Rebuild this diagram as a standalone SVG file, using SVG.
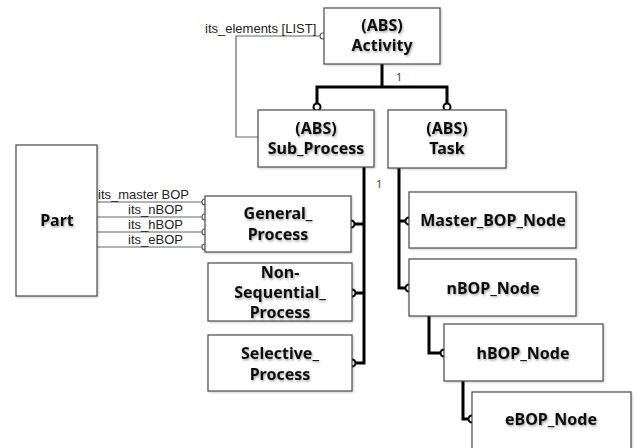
<svg xmlns="http://www.w3.org/2000/svg" width="637" height="448" viewBox="0 0 637 448">
  <defs>
    <filter id="txtShadow" x="-10%" y="-20%" width="130%" height="160%">
      <feDropShadow dx="1" dy="1.5" stdDeviation="1" flood-color="#000" flood-opacity="0.35"/>
    </filter>
    <filter id="boxShadow" x="-5%" y="-5%" width="115%" height="115%">
      <feDropShadow dx="1" dy="1" stdDeviation="1" flood-color="#000" flood-opacity="0.2"/>
    </filter>
  </defs>
  <style>
    .box { fill: #fff; stroke: #4a4a4a; stroke-width: 1.2; filter: url(#boxShadow); }
    .name { font-family: "Noto Sans", "Open Sans", sans-serif; font-weight: bold; font-size: 16px; fill: #111; text-anchor: middle; filter: url(#txtShadow); }
    .lbl { font-family: "Liberation Sans", Arial, sans-serif; font-size: 13px; fill: #222; }
    .num { font-family: "Noto Sans", sans-serif; font-size: 11px; fill: #4a3a2a; }
    .thick { fill: none; stroke: #000; stroke-width: 3; stroke-linejoin: miter; }
    .thin { fill: none; stroke: #666; stroke-width: 1.2; }
    .end { fill: #fff; stroke: #000; stroke-width: 2; }
    .endThin { fill: #fff; stroke: #555; stroke-width: 1.1; }
  </style>
  <rect width="637" height="448" fill="#fff"/>

  <!-- connectors -->
  <g id="connectors">
    <!-- Activity composition -->
    <path class="thick" d="M382,64 V87 M317,105 V87 H447 V105"/>
    <circle class="end" cx="317" cy="107" r="3.5"/>
    <circle class="end" cx="447" cy="107" r="3.5"/>
    <text class="num" x="396" y="81">1</text>
    <!-- its_elements list -->
    <path class="thin" d="M321,36 H236 V137 H258"/>
    <circle class="endThin" cx="323" cy="36" r="3"/>
    <text class="lbl" x="205" y="33">its_elements [LIST]</text>
    <!-- Sub_Process specialisations -->
    <path class="thick" d="M364,167 V363 H354 M354,293 H364 M355,224 H364"/>
    <circle class="end" cx="351" cy="224" r="3.5"/>
    <circle class="end" cx="352" cy="293" r="3.5"/>
    <circle class="end" cx="352" cy="363" r="3.5"/>
    <text class="num" x="376" y="188">1</text>
    <!-- Task chain -->
    <path class="thick" d="M399,168 V288 H406 M399,221 H406"/>
    <circle class="end" cx="409" cy="221" r="3.5"/>
    <circle class="end" cx="409" cy="288" r="3.5"/>
    <path class="thick" d="M429,316 V353 H441"/>
    <circle class="end" cx="444" cy="353" r="3.5"/>
    <path class="thick" d="M463,381 V419 H469"/>
    <circle class="end" cx="472" cy="419" r="3.5"/>
    <!-- Part links -->
    <path class="thin" d="M97,202 H203 M97,217 H203 M97,232 H203 M97,247 H203"/>
    <circle class="endThin" cx="205" cy="202" r="3"/>
    <circle class="endThin" cx="205" cy="217" r="3"/>
    <circle class="endThin" cx="205" cy="232" r="3"/>
    <circle class="endThin" cx="205" cy="247" r="3"/>
    <text class="lbl" x="98" y="199">its_master BOP</text>
    <text class="lbl" x="128" y="214">its_nBOP</text>
    <text class="lbl" x="128" y="229">its_hBOP</text>
    <text class="lbl" x="128" y="244">its_eBOP</text>
  </g>

  <g id="activity">
    <rect class="box" x="324" y="8" width="116" height="56"/>
    <text class="name" x="382" y="31">(ABS)</text>
    <text class="name" x="382" y="51">Activity</text>
  </g>
  <g id="sub_process">
    <rect class="box" x="258" y="110" width="116" height="57"/>
    <text class="name" x="316" y="134">(ABS)</text>
    <text class="name" x="316" y="154">Sub_Process</text>
  </g>
  <g id="task">
    <rect class="box" x="388" y="110" width="118" height="58"/>
    <text class="name" x="447" y="134">(ABS)</text>
    <text class="name" x="447" y="154">Task</text>
  </g>
  <g id="part">
    <rect class="box" x="16" y="145" width="81" height="151"/>
    <text class="name" x="57" y="226">Part</text>
  </g>
  <g id="general_process">
    <rect class="box" x="205" y="196" width="146" height="56"/>
    <text class="name" x="278" y="219">General_</text>
    <text class="name" x="278" y="240">Process</text>
  </g>
  <g id="non_sequential_process">
    <rect class="box" x="208" y="263" width="144" height="58"/>
    <text class="name" x="280" y="278">Non-</text>
    <text class="name" x="280" y="298">Sequential_</text>
    <text class="name" x="280" y="318">Process</text>
  </g>
  <g id="selective_process">
    <rect class="box" x="208" y="335" width="144" height="56"/>
    <text class="name" x="280" y="359">Selective_</text>
    <text class="name" x="280" y="380">Process</text>
  </g>
  <g id="master_bop_node">
    <rect class="box" x="409" y="192" width="167" height="56"/>
    <text class="name" x="493" y="226">Master_BOP_Node</text>
  </g>
  <g id="nbop_node">
    <rect class="box" x="409" y="259" width="167" height="57"/>
    <text class="name" x="493" y="294">nBOP_Node</text>
  </g>
  <g id="hbop_node">
    <rect class="box" x="444" y="324" width="159" height="57"/>
    <text class="name" x="523" y="359">hBOP_Node</text>
  </g>
  <g id="ebop_node">
    <rect class="box" x="472" y="392" width="159" height="60"/>
    <text class="name" x="551" y="425">eBOP_Node</text>
  </g>
</svg>
